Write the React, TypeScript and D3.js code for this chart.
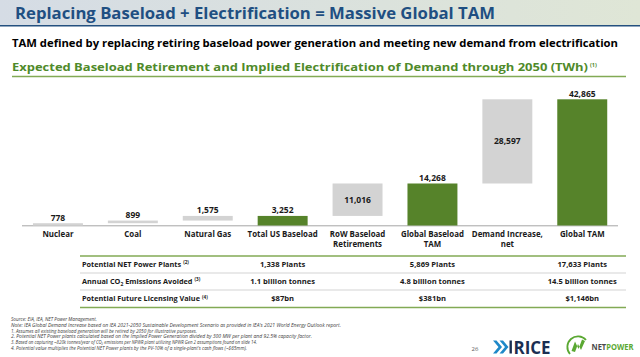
import React from 'react';
import * as d3 from 'd3';

const W = 640;
const H = 357;

const titleText = 'Replacing Baseload + Electrification = Massive Global TAM';
const subtitleText = 'TAM defined by replacing retiring baseload power generation and meeting new demand from electrification';
const chartTitleText = 'Expected Baseload Retirement and Implied Electrification of Demand through 2050 (TWh)';
const chartTitleNote = '(1)';

const categories = ['Nuclear', 'Coal', 'Natural Gas', 'Total US Baseload', 'RoW Baseload Retirements', 'Global Baseload TAM', 'Demand Increase, net', 'Global TAM'];
const categoryLines = [['Nuclear'], ['Coal'], ['Natural Gas'], ['Total US Baseload'], ['RoW Baseload', 'Retirements'], ['Global Baseload', 'TAM'], ['Demand Increase,', 'net'], ['Global TAM']];
const values = [778, 899, 1575, 3252, 11016, 14268, 28597, 42865];
const barKinds = ['step', 'step', 'step', 'total', 'step', 'total', 'step', 'total'];

const tableRowLabels = ['Potential NET Power Plants', 'Annual CO|2| Emissions Avoided', 'Potential Future Licensing Value'];
const tableRowNotes = ['(2)', '(3)', '(4)'];
const tableColumns = ['Total US Baseload', 'Global Baseload TAM', 'Global TAM'];
const plantsRow = ['1,338 Plants', '5,869 Plants', '17,633 Plants'];
const co2Row = ['1.1 billion tonnes', '4.8 billion tonnes', '14.5 billion tonnes'];
const licensingRow = ['$87bn', '$381bn', '$1,146bn'];
const tableValues = [plantsRow, co2Row, licensingRow];

const footnotes = [
  'Source:  EIA, IEA, NET Power Management.',
  "Note:  IEA Global Demand Increase based on IEA 2021-2050 Sustainable Development Scenario as provided in IEA's 2021 World Energy Outlook report.",
  '1.  Assumes all existing baseload generation will be retired by 2050 for illustrative purposes.',
  '2.  Potential NET Power plants calculated based on the Implied Power Generation divided by 300 MW per plant and 92.5% capacity factor.',
  '3.  Based on capturing ~820k tonnes/year of CO\u2082 emissions per NPWR plant utilizing NPWR Gen 2 assumptions found on slide 14.',
  "4.  Potential value multiplies the Potential NET Power plants by the PV-10% of a single-plant's cash flows (~$65mm).",
];
const footnoteWidths = [86, 330, 186, 301, 246, 236];

const pageNumber = '26';

const FONT = "'Open Sans', 'Noto Sans', sans-serif";
const GREEN = '#56832a';
const GRAY = '#d3d3d3';
const LINE_GREEN = '#82aa55';

export default function App() {
  const x = d3
    .scaleBand<string>()
    .domain(categories)
    .range([20.5, 619.7])
    .paddingInner(0.333)
    .paddingOuter(0.1665);
  const y = d3.scaleLinear().domain([0, 42865]).range([225.5, 99.3]);
  const fmt = d3.format(',');

  let run = 0;
  const bars = values.map((v, i) => {
    let y0: number, y1: number;
    if (barKinds[i] === 'total') {
      y0 = 0;
      y1 = v;
      run = v;
    } else {
      y0 = run;
      y1 = run + v;
      run += v;
    }
    return { cat: categories[i], v, y0, y1, kind: barKinds[i] };
  });

  const rowTops = [256, 273, 290, 307.5];

  const renderRowLabel = (s: string) => {
    const parts = s.split('|');
    if (parts.length === 1) return s;
    return (
      <>
        {parts[0]}
        <tspan fontSize={5} dy={2}>{parts[1]}</tspan>
        <tspan dy={-2}>{parts[2]}</tspan>
      </>
    );
  };

  return (
    <svg
      width={W}
      height={H}
      viewBox={`0 0 ${W} ${H}`}
      style={{ position: 'absolute', left: 0, top: 0, display: 'block', background: '#fff' }}
      fontFamily={FONT}
    >
      <defs>
        <linearGradient id="titleGrad" x1="0" x2="1" y1="0" y2="0">
          <stop offset="0%" stopColor="#d5dce5" />
          <stop offset="100%" stopColor="#dfe6d6" />
        </linearGradient>
      </defs>
      <rect x={0} y={0} width={W} height={H} fill="#fff" />
      {/* Title bar */}
      <rect x={0} y={0} width={W} height={25} fill="url(#titleGrad)" />
      <line x1={0} x2={W} y1={25.7} y2={25.7} stroke="#24507f" strokeWidth={1.6} />
      <text x={15} y={18.6} fontSize={16.5} fontWeight={700} fill="#1f4f82" textLength={480} lengthAdjust="spacingAndGlyphs">
        {titleText}
      </text>

      {/* Subtitle */}
      <text x={12} y={46.5} fontSize={11.3} fontWeight={700} fill="#000" textLength={606} lengthAdjust="spacingAndGlyphs">
        {subtitleText}
      </text>

      {/* Chart title */}
      <text x={12} y={70.8} fontSize={10.6} fontWeight={700} fill="#4f8a2a" textLength={576} lengthAdjust="spacingAndGlyphs">
        {chartTitleText}
      </text>
      <text x={590} y={66.5} fontSize={5.5} fontWeight={700} fill="#4f8a2a">
        {chartTitleNote}
      </text>
      <line x1={12} x2={626} y1={76.5} y2={76.5} stroke={LINE_GREEN} strokeWidth={1.5} />

      {/* Baseline */}
      <line x1={22} x2={618} y1={225.8} y2={225.8} stroke="#a6a6a6" strokeWidth={1} />

      {/* Bars */}
      {bars.map((b, i) => {
        const bx = x(b.cat)!;
        const bw = x.bandwidth();
        const top = y(b.y1);
        const bottom = y(b.y0);
        const inside = b.kind === 'step' && b.v > 5000;
        return (
          <g key={b.cat}>
            <rect x={bx} y={top} width={bw} height={Math.max(bottom - top, 0.5)} fill={b.kind === 'total' ? GREEN : GRAY} />
            {inside ? (
              <text x={bx + bw / 2} y={(top + bottom) / 2 + 3} textAnchor="middle" fontSize={8.5} fontWeight={700} fill="#1a1a1a">
                {fmt(b.v)}
              </text>
            ) : (
              <text x={bx + bw / 2} y={top - 2.6} textAnchor="middle" fontSize={8.5} fontWeight={700} fill="#1a1a1a">
                {fmt(b.v)}
              </text>
            )}
            {categoryLines[i].map((ln, j) => (
              <text key={j} x={bx + bw / 2} y={236.5 + j * 10} textAnchor="middle" fontSize={7.9} fontWeight={700} fill="#1a1a1a">
                {ln}
              </text>
            ))}
          </g>
        );
      })}

      {/* Table */}
      <line x1={80} x2={626} y1={rowTops[0]} y2={rowTops[0]} stroke={LINE_GREEN} strokeWidth={1.5} />
      <line x1={80} x2={626} y1={rowTops[1]} y2={rowTops[1]} stroke="#c8c8c8" strokeWidth={0.8} />
      <line x1={80} x2={626} y1={rowTops[2]} y2={rowTops[2]} stroke="#c8c8c8" strokeWidth={0.8} />
      <line x1={80} x2={626} y1={rowTops[3]} y2={rowTops[3]} stroke={LINE_GREEN} strokeWidth={1.5} />
      {tableRowLabels.map((lab, r) => {
        const cy = (rowTops[r] + rowTops[r + 1]) / 2 + 2.6;
        return (
          <g key={lab}>
            <text x={82} y={cy} fontSize={7.3} fontWeight={700} fill="#1a1a1a">
              {renderRowLabel(lab)}
              <tspan fontSize={4.6} dx={2} dy={-2.8}>{tableRowNotes[r]}</tspan>
            </text>
            {tableColumns.map((c, k) => (
              <text key={c} x={x(c)! + x.bandwidth() / 2} y={cy} textAnchor="middle" fontSize={7.6} fontWeight={700} fill="#1a1a1a">
                {tableValues[r][k]}
              </text>
            ))}
          </g>
        );
      })}

      {/* Footnotes */}
      {footnotes.map((f, i) => (
        <text key={i} x={11} y={321 + i * 5.8} fontSize={4.8} fontStyle="italic" fill="#3a3a3a" textLength={footnoteWidths[i]} lengthAdjust="spacingAndGlyphs">
          {f}
        </text>
      ))}

      {/* Page number */}
      <text x={475} y={350.5} fontSize={6} fill="#595959" textAnchor="middle">
        {pageNumber}
      </text>

      {/* RICE logo */}
      <g>
        <path d="M493,340.5 L498.5,347 L493,353.5 L496.5,353.5 L502,347 L496.5,340.5 Z" fill="#1e88c8" />
        <path d="M499.5,340.5 L505,347 L499.5,353.5 L503,353.5 L508.5,347 L503,340.5 Z" fill="#1e88c8" />
        <rect x={509.5} y={340.5} width={2.4} height={13} fill="#1b2e52" />
        <text x={513.5} y={353.5} fontSize={17.5} fontWeight={700} fill="#1b2e52" textLength={37} lengthAdjust="spacingAndGlyphs">
          RICE
        </text>
      </g>

      {/* NET POWER logo */}
      <g>
        <path d="M570,354 A9.3,9.3 0 1 1 586,340" fill="none" stroke="#5aa832" strokeWidth={1.8} />
        <path d="M571.5,351 L575,341.5 L578.5,349 L582,339.5 L585,341 L581,350 L578,344 L575,352 Z" fill="#5aa832" />
        <text x={591.5} y={350} fontSize={8} fontWeight={700} textLength={42} lengthAdjust="spacingAndGlyphs">
          <tspan fill="#4a4a4a">NET</tspan>
          <tspan fill="#5aa832">POWER</tspan>
        </text>
      </g>
    </svg>
  );
}
